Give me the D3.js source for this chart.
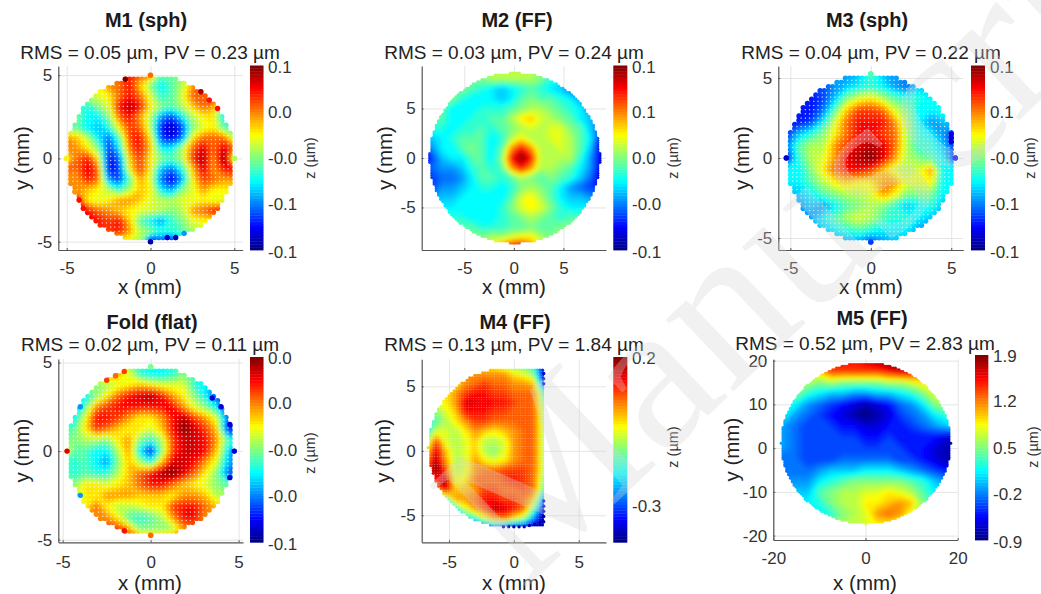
<!DOCTYPE html>
<html><head><meta charset="utf-8">
<script src="https://cdn.jsdelivr.net/npm/d3@7"></script>
<style>
html,body{margin:0;padding:0;background:#fff}
svg{display:block}
text{font-family:"Liberation Sans",Arial,sans-serif}
</style></head><body>
<svg id="fig" width="1041" height="594"></svg>
<script>
// All surface grids are colour-bar steps: -11 = bottom of the bar, 11 = top. Rows run from top to bottom.
const M1_rows=[
[0,0,2,3,4,6,8,6,5,-1,-1,1,2,4,5,4,2],
[0,0,2,3,5,6,8,4,0,-3,-1,1,5,8,6,4,2],
[1,1,1,2,3,6,8,6,2,-2,-1,2,6,6,7,5,3],
[-2,-2,-2,0,2,8,10,8,3,0,-1,1,4,6,5,-2,-2],
[0,0,-3,-3,0,6,8,5,1,-5,-7,-3,1,3,3,-3,-3],
[-1,-1,-3,-4,-2,3,7,6,1,-8,-10,-7,0,2,3,-1,-1],
[5,4,1,-3,-6,-1,7,8,3,-7,-9,-6,3,6,6,6,1],
[5,5,3,0,-7,-3,6,8,4,-3,-3,1,6,9,6,9,6],
[3,6,8,3,-8,-6,4,7,3,0,-1,1,7,10,5,11,1],
[6,6,9,6,-9,-7,3,7,3,-4,-6,-2,4,9,5,8,8],
[5,5,8,6,-5,-7,-1,5,2,-6,-9,-5,3,7,6,5,5],
[5,5,4,3,1,-2,1,4,3,-3,-5,0,2,5,3,3,3],
[8,8,3,2,3,5,5,4,2,1,1,2,2,3,2,2,2],
[8,8,8,6,5,4,3,2,2,1,0,1,5,6,8,8,8],
[8,8,8,8,7,8,4,-1,-3,-5,-2,0,2,3,3,3,3],
[7,7,7,7,7,8,5,1,0,-2,-2,-1,1,1,1,1,1],
[2,2,2,2,2,2,2,1,-10,-7,-9,-5,-5,-5,-5,-5,-5]];
const M1_edge=[[-1.5,4.75,11],[3,4,10],[3.5,3.5,8],[4,3,8],[-4,-3,8],[-4.25,-2.5,8],[-4.5,-2,5],[0,-5,-10],[1.5,-4.75,-10],[1,-4.75,-9],[2,-4.5,-5],[5,0,1],[-5,0,3],[0,5,6]];

const M2_rows=[
[-1,-1,-1,-1,-1,-1,0,1,1,1,1,1,0,-2,-3,-3,-3,-3,-3,-3],
[-1,-1,-1,-1,-1,-1,0,1,1,1,1,1,0,-2,-3,-3,-3,-3,-3,-3],
[-1,-1,-1,-1,0,-1,-2,-3,-4,-3,-2,-1,-2,-3,-4,-6,-6,-6,-6,-6],
[0,0,0,0,-2,-3,-3,-3,-4,-3,-1,0,-1,-1,-2,-3,-5,-6,-6,-6],
[-1,-1,-1,-3,-3,-3,-2,-2,-2,-1,0,1,1,0,-1,-2,-3,-5,-6,-6],
[-1,-1,-1,-3,-3,-2,-2,-1,-1,1,3,4,2,1,0,-1,-3,-4,-6,-6],
[-2,-2,-2,-3,-2,-2,-1,-2,-1,0,1,2,1,2,2,0,-1,-4,-6,-6],
[-4,-4,-3,-2,-1,-1,-1,-3,-2,1,3,1,1,2,2,1,-1,-3,-8,-8],
[-8,-5,-3,-3,-1,0,-1,-3,-1,5,8,5,1,1,2,1,-1,-4,-9,-9],
[-9,-7,-4,-3,-3,-1,-1,-3,0,8,11,8,1,1,1,1,-2,-5,-9,-9],
[-8,-6,-5,-5,-4,-2,-1,-2,-1,5,8,5,1,1,0,-1,-3,-5,-9,-9],
[-8,-7,-6,-6,-5,-3,-1,-1,-2,-1,1,0,-1,0,-1,-2,-4,-6,-9,-9],
[-7,-7,-5,-5,-4,-3,-2,-2,-3,-2,0,1,0,-1,-3,-5,-6,-7,-8,-8],
[-5,-5,-4,-4,-3,-3,-3,-3,-3,-1,2,3,1,-1,-3,-4,-4,-5,-5,-5],
[-3,-3,-3,-3,-3,-3,-3,-3,-2,0,2,3,2,0,-2,-3,-3,-3,-3,-3],
[-2,-2,-2,-2,-2,-3,-3,-3,-2,-1,0,1,0,-1,-2,-1,-1,-1,-1,-1],
[-1,-1,-1,-1,-1,-1,-2,-2,-2,-1,-1,0,-1,-1,0,0,0,0,0,0],
[0,0,0,0,0,0,0,1,1,2,3,3,1,0,0,0,0,0,0,0],
[0,0,0,0,0,0,0,3,6,9,9,6,2,0,0,0,0,0,0,0]];
const M2_edge=[];

const M3_rows=[
[-5,-5,-5,-5,-5,-5,-4,-1,-4,-5,-5,-5,-5,-5,-5],
[-7,-7,-7,-7,-5,-4,-3,-2,-3,-5,-6,-4,-4,-4,-4],
[-8,-8,-8,-7,-4,0,2,3,1,-1,-2,-2,-3,-3,-3],
[-8,-8,-8,-6,-1,4,7,7,6,2,0,-3,-3,-2,-2],
[-8,-8,-7,-3,2,6,8,8,8,5,1,-3,-5,-4,-4],
[-7,-4,-2,0,3,6,8,8,7,6,1,-2,-3,-5,-9],
[-6,-1,1,1,5,7,9,10,9,6,1,-2,-2,-4,-7],
[-8,-2,1,2,5,9,10,11,9,5,1,0,-1,-3,-8],
[-3,-3,0,3,6,8,8,7,4,2,1,2,5,-3,-3],
[-3,-3,-1,1,3,4,3,3,5,5,2,2,3,-3,-3],
[-4,-4,-3,-1,0,1,1,2,5,3,0,0,0,-3,-3],
[-5,-5,-4,-5,-3,-1,0,1,0,-2,-4,-3,-2,-4,-4],
[-5,-5,-5,-3,-1,1,2,1,-1,-2,-2,-3,-4,-4,-4],
[-4,-4,-4,-4,-3,-2,-1,-2,-3,-3,-3,-5,-5,-5,-5],
[-5,-5,-5,-5,-5,-5,-5,-7,-5,-4,-4,-4,-4,-4,-4]];
const M3_edge=[[-5.25,0,-9],[0,5.25,-1],[0,-5.25,-7],[5.25,0,-8],[5,1.5,-9],[5,1.25,-9],[5,1,-9]];

const Fold_rows=[
[3,3,3,3,3,4,1,-1,-2,-2,-2,0,-1,-1,-1,-1,-1],
[3,3,3,4,5,5,2,-2,-3,-3,-2,0,-1,-2,-3,-3,-3],
[0,0,0,0,1,2,3,4,3,2,2,2,-2,-3,-6,-7,-7],
[-3,-3,-3,0,3,6,8,9,10,8,5,3,0,-3,-7,-9,-9],
[-4,-4,-1,5,7,8,8,8,8,8,8,5,2,0,-3,-7,-7],
[-3,-3,2,8,8,7,5,3,3,5,8,10,7,5,2,-6,-6],
[-1,-1,3,7,6,4,3,3,2,4,8,11,9,7,4,-8,-8],
[0,0,1,1,0,3,5,0,-2,1,7,9,9,8,5,-1,-3],
[8,-1,-1,-3,-3,1,5,-3,-8,0,7,9,9,8,4,-3,-8],
[-1,-2,-1,-3,-5,0,4,1,-2,4,9,9,8,5,2,-4,-6],
[-1,-2,-1,-2,-2,1,4,6,8,10,11,9,6,3,0,-6,-7],
[0,0,3,3,2,3,4,6,8,8,6,4,3,2,0,-1,-1],
[1,1,3,3,5,5,5,4,4,4,3,5,5,4,1,1,1],
[2,2,2,6,3,1,1,2,3,3,7,8,8,6,4,4,4],
[5,5,5,5,5,3,-1,-2,-1,1,5,8,8,5,5,5,5],
[7,7,7,7,7,7,5,0,0,0,1,5,6,6,6,6,6],
[6,6,6,6,6,6,6,6,6,6,6,6,6,6,6,6,6]];
const Fold_edge=[[-4.75,0,9],[4.75,0,-9],[0,4.75,0],[0,-4.75,6],[-1.5,4.5,7],[-2,4.25,6],[-2.5,4,7],[-1.5,-4.5,8],[4,2.5,-9],[3.5,3,-9],[4.5,1.5,-9],[4.5,-1.5,-9],[-4,2.5,-5],[-4,-2.5,-5]];

const M4_rows=[
[3,3,3,3,3,3,3,2,0,-1,-1,-2,-9,-11],
[5,5,5,5,5,5,5,5,5,3,2,0,-9,-11],
[5,5,5,3,5,6,7,6,6,5,5,4,-6,-11],
[3,3,3,5,7,8,8,7,7,6,6,6,-1,-11],
[2,2,3,5,9,9,8,8,8,7,6,6,1,-11],
[-1,0,2,4,8,8,8,7,7,6,6,6,2,-11],
[-2,-1,1,3,5,7,7,6,6,6,6,6,2,-11],
[-3,2,2,1,3,5,4,3,4,5,6,6,2,-11],
[0,7,2,1,2,4,1,1,2,5,6,6,2,-11],
[3,9,4,1,2,4,1,0,2,5,6,6,2,-11],
[5,10,5,1,2,5,3,2,3,5,6,6,2,-11],
[7,11,7,1,2,5,6,6,7,7,7,6,2,-11],
[7,8,10,2,3,6,6,6,7,8,7,6,1,-11],
[5,5,9,4,4,5,7,7,6,6,7,6,0,-11],
[-1,-1,-2,5,5,6,8,8,7,7,6,4,-5,-11],
[-3,-3,-3,-3,2,5,7,10,9,8,6,0,-9,-11],
[-3,-3,-3,-3,-3,-2,2,5,6,3,1,-5,-10,-11],
[-8,-8,-8,-8,-8,-8,-8,-8,-10,-10,-10,-10,-10,-10],
[-10,-10,-10,-10,-10,-10,-10,-10,-10,-10,-10,-10,-10,-10]];
const M4_edge=[[-.8,-5.9,-10],[-.4,-5.9,-10],[0,-5.9,-10],[.4,-5.9,-10],[.8,-5.9,-9],[1.2,-5.8,-10],[1.6,-5.7,-10],[2,-5.6,-10],[2.3,-5.5,-10],[2.3,-5.1,-10],[2.3,-4.7,-10],[2.3,-4.3,-9],[2.3,-3.9,-8],[2.3,6,-9],[2.3,5.6,-9],[2.3,5.2,-8]];

const M5_rows=[
[8,8,8,8,8,8,8,8,9,10,11,11,11,10,10,10,10],
[1,1,1,2,4,7,7,7,7,7,8,9,9,7,5,5,5],
[1,1,1,1,0,1,0,0,0,0,1,1,2,3,4,4,4],
[0,0,0,-2,-3,-4,-4,-5,-5,-4,-4,-3,-2,0,2,3,3],
[-3,-3,-3,-5,-6,-7,-8,-9,-10,-9,-8,-6,-5,-3,0,1,1],
[-3,-3,-5,-6,-7,-8,-9,-10,-11,-10,-9,-7,-6,-5,-3,-2,-2],
[-5,-5,-6,-7,-7,-7,-8,-8,-9,-9,-8,-8,-7,-6,-5,-4,-4],
[-5,-5,-6,-7,-7,-7,-7,-7,-8,-8,-7,-8,-8,-8,-8,-9,-9],
[-5,-5,-6,-7,-7,-7,-7,-7,-7,-7,-7,-7,-8,-8,-9,-10,-10],
[-6,-6,-6,-7,-7,-7,-6,-6,-6,-6,-6,-7,-7,-8,-9,-10,-10],
[-6,-6,-6,-6,-5,-4,-4,-4,-3,-3,-3,-4,-5,-6,-7,-8,-8],
[-5,-5,-5,-5,-3,-2,-1,0,0,0,0,0,-1,-2,-4,-5,-5],
[-4,-4,-4,-4,-1,0,1,1,2,2,3,2,1,-1,-3,-3,-3],
[-3,-3,-3,-3,-2,0,1,1,3,3,4,5,4,0,-2,-2,-2],
[-3,-3,-3,-3,-3,-2,0,1,2,5,6,5,2,0,0,0,0],
[0,0,0,0,0,0,1,1,2,3,3,2,1,0,0,0,0],
[1,1,1,1,1,1,1,1,1,1,1,1,1,1,1,1,1]];
const M5_edge=[];

// Text and tick labels
const titles=["M1 (sph)","M2 (FF)","M3 (sph)","Fold (flat)","M4 (FF)","M5 (FF)"];
const subtitles=["RMS = 0.05 µm, PV = 0.23 µm","RMS = 0.03 µm, PV = 0.24 µm","RMS = 0.04 µm, PV = 0.22 µm","RMS = 0.02 µm, PV = 0.11 µm","RMS = 0.13 µm, PV = 1.84 µm","RMS = 0.52 µm, PV = 2.83 µm"];
const cbLabels=[
["0.1","0.0","-0.0","-0.1","-0.1"],
["0.1","0.1","0.0","-0.0","-0.1"],
["0.1","0.1","-0.0","-0.1","-0.1"],
["0.0","0.0","-0.0","-0.0","-0.1"],
["0.2","-0.3"],
["1.9","1.2","0.5","-0.2","-0.9"]];
const cbSteps5=[11,5.5,0,-5.5,-11];
const cbStepsM4=[11,-6.65];
const ticks5=[-5,0,5], ticks20=[-20,0,20], ticks20y=[-20,-10,0,10,20];

// Layout of the six panels
const panels=[
{i:0,rows:M1_rows,edge:M1_edge,gx:[-5,.625],gy:[5,.625],box:[58.3,242.7,66,250],xd:[-5.5,5.5],yd:[-5.5,5.55],xt:ticks5,yt:ticks5,cb:[250,263.5,65.5,250],cbT:cbSteps5,cbLx:268,tx:146,ty:20,sx:150,sy:52,ylx:22,xlx:150,xly:287,xty:268,zx:310,zy:158,dots:{R:5,pitch:.25,gap:1,r:2.7,cx:0,cy:0}},
{i:1,rows:M2_rows,edge:M2_edge,gx:[-9.25,1],gy:[9,1],box:[421.7,606,66,250],xd:[-9.3,9.3],yd:[-9.3,9.3],xt:ticks5,yt:ticks5,cb:[613.3,627.3,65.5,250],cbT:cbSteps5,cbLx:632,tx:517,ty:20,sx:514,sy:52,ylx:385,xlx:514,xly:287,xty:268,zx:673,zy:158,dots:{R:8.6,pitch:.22,gap:0,r:1.7,cx:.1,cy:0}},
{i:2,rows:M3_rows,edge:M3_edge,gx:[-5.25,.75],gy:[5.25,.75],box:[778.3,963.3,66,250],xd:[-5.75,5.75],yd:[-5.75,5.75],xt:ticks5,yt:ticks5,cb:[971,985,65.5,250],cbT:cbSteps5,cbLx:990,tx:867,ty:20,sx:871,sy:52,ylx:742,xlx:871,xly:287,xty:268,zx:1030,zy:158,dots:{R:5.25,pitch:.2625,gap:1,r:2.7,cx:0,cy:0}},
{i:3,rows:Fold_rows,edge:Fold_edge,gx:[-5,.625],gy:[5,.625],box:[58.3,243,359,542.3],xd:[-5.25,5.25],yd:[-5.15,5.2],xt:ticks5,yt:ticks5,cb:[250,263.5,357,542.3],cbT:cbSteps5,cbLx:268,tx:152,ty:322,sx:150,sy:344,ylx:22,xlx:150,xly:583,xty:562,zx:310,zy:453,dots:{R:4.75,pitch:.2375,gap:1,r:2.7,cx:0,cy:0}},
{i:4,rows:M4_rows,edge:M4_edge,gx:[-6.75,.75],gy:[6.75,.75],box:[421.7,606,359.3,542.3],xd:[-7.1,7.1],yd:[-7.1,7.1],xt:ticks5,yt:ticks5,cb:[613.3,627.3,357,542.3],cbT:cbStepsM4,cbLx:632,tx:515,ty:322,sx:514,sy:344,ylx:383,xlx:514,xly:583,xty:562,zx:673,zy:447,dots:{half:1,R:6.2,pitch:.2,gap:0,r:1.7,cx:-.4,cy:.25}},
{i:5,rows:M5_rows,edge:M5_edge,gx:[-20,2.5],gy:[20,2.5],box:[773.3,957.7,359.3,540],xd:[-20,20],yd:[-21,20.3],xt:ticks20,yt:ticks20y,cb:[975,988.3,355,540],cbT:cbSteps5,cbLx:993,tx:872,ty:318,sx:865,sy:343,ylx:732,xlx:865,xly:583,xty:558,zx:1033,zy:447,dots:{top:19.2,R:18.4,pitch:.4,gap:0,r:1.5,cx:.1,cy:1.1}}
];

const svg=d3.select("#fig");
const defs=svg.append("defs");
const jet=d3.scaleLinear().domain([-11,-8.25,-2.75,2.75,8.25,11]).range(["#00007f","#0000ff","#00ffff","#ffff00","#ff0000","#7f0000"]).clamp(true);
const levels=d3.range(-11,11.01,.5);
defs.append("filter").attr("id","smooth").attr("x","-5%").attr("y","-5%").attr("width","110%").attr("height","110%").append("feGaussianBlur").attr("stdDeviation",1.9);
defs.append("filter").attr("id","soft").attr("x","-5%").attr("y","-5%").attr("width","110%").attr("height","110%").append("feGaussianBlur").attr("stdDeviation",.5);

panels.forEach(p=>{
  const [L,R,T,B]=p.box;
  const x=d3.scaleLinear().domain(p.xd).range([L,R]);
  const y=d3.scaleLinear().domain(p.yd).range([B,T]);
  const g=svg.append("g");
  g.append("g").attr("transform",`translate(0,${B})`).call(d3.axisBottom(x).tickValues(p.xt).tickSize(T-B).tickFormat("")).call(s=>{s.select(".domain").remove();s.selectAll("line").attr("stroke","#e4e4e4")});
  g.append("g").attr("transform",`translate(${L},0)`).call(d3.axisLeft(y).tickValues(p.yt).tickSize(L-R).tickFormat("")).call(s=>{s.select(".domain").remove();s.selectAll("line").attr("stroke","#e4e4e4")});
  // mask made of the measurement dots
  const d=p.dots, pitch=d.pitch;
  const n=Math.ceil((d.R+1)/pitch), pts=[];
  const inside=(px,py)=>{
    const dx=px-d.cx, dy=py-d.cy, ok=dx*dx+dy*dy<=d.R*d.R*1.0001;
    if(d.half) return px<=2.4 && (px<-1 ? ok : (py>=-5.9 && py<=6.4));
    if(d.top!==undefined) return ok && py<=d.top;
    return ok;
  };
  for(let i=-n;i<=n;i++)for(let j=-n;j<=n;j++){
    const px=d.cx+i*pitch, py=d.cy+j*pitch;
    if(inside(px,py))pts.push([px,py]);
  }
  const clip=defs.append("clipPath").attr("id","clip"+p.i);
  clip.selectAll("circle").data(pts).join("circle").attr("cx",v=>x(v[0])).attr("cy",v=>y(v[1])).attr("r",d.r);
  // filled contours of the surface
  const m=p.rows.length, w=p.rows[0].length;
  const cs=d3.contours().size([w,m]).thresholds(levels)(p.rows.flat());
  const proj=d3.geoTransform({point(a,b){this.stream.point(x(p.gx[0]+(a-.5)*p.gx[1]),y(p.gy[0]-(b-.5)*p.gy[1]));}});
  const path=d3.geoPath(proj);
  const outer=g.append("g").attr("filter","url(#soft)");
  const clipped=outer.append("g").attr("clip-path",`url(#clip${p.i})`);
  const surf=clipped.append("g").attr("filter","url(#smooth)");
  surf.selectAll("path").data(cs).join("path").attr("d",path).attr("fill",c=>jet(c.value+.25));
  // white gaps between the measurement dots
  if(d.gap){
    const gaps=pts.filter(v=>inside(v[0]+pitch,v[1])&&inside(v[0],v[1]+pitch)&&inside(v[0]+pitch,v[1]+pitch));
    clipped.append("g").selectAll("circle").data(gaps).join("circle")
      .attr("cx",v=>x(v[0]+pitch/2)).attr("cy",v=>y(v[1]+pitch/2)).attr("r",.8).attr("fill","#fff").attr("opacity",.6);
  }
  outer.append("g").selectAll("circle").data(p.edge).join("circle")
    .attr("cx",v=>x(v[0])).attr("cy",v=>y(v[1])).attr("r",d.r).attr("fill",v=>jet(v[2]));
  // axes
  const fmt=v=>String(v);
  const style=s=>{s.select(".domain").attr("stroke","#555").attr("stroke-width",1.2);s.selectAll("line").attr("stroke","#555");s.selectAll("text").attr("font-size",17).attr("fill","#333").style("font-family",'"Liberation Sans"')};
  g.append("g").attr("transform",`translate(0,${B})`).call(d3.axisBottom(x).tickValues(p.xt).tickSizeInner(-2).tickSizeOuter(0).tickPadding(p.xty-B-6).tickFormat(fmt)).call(style);
  g.append("g").attr("transform",`translate(${L},0)`).call(d3.axisLeft(y).tickValues(p.yt).tickSizeInner(-2).tickSizeOuter(0).tickPadding(6).tickFormat(fmt)).call(style);
  // colour bar
  const [cL,cR,cT,cB]=p.cb;
  const cy=d3.scaleLinear().domain([-11,11]).range([cB,cT]);
  const bands=d3.range(-11,11,22/64);
  g.append("g").selectAll("rect").data(bands).join("rect").attr("x",cL).attr("width",cR-cL)
    .attr("y",v=>cy(v+22/64)).attr("height",v=>cy(v)-cy(v+22/64)+.4).attr("fill",v=>jet(v+11/64));
  g.append("g").selectAll("text").data(p.cbT).join("text").attr("x",p.cbLx)
    .attr("y",v=>cy(v)+(v===11?1.2:v===-11?1.5:0)).attr("dy",".36em").attr("font-size",17).attr("fill","#333")
    .text((v,k)=>cbLabels[p.i][k]);
  // titles
  g.append("text").attr("x",p.tx).attr("y",p.ty).attr("dy",".36em").attr("text-anchor","middle").attr("font-size",20).attr("font-weight","bold").attr("fill","#1a1a1a").text(titles[p.i]);
  g.append("text").attr("x",p.sx).attr("y",p.sy).attr("dy",".36em").attr("text-anchor","middle").attr("font-size",19).attr("fill","#222").text(subtitles[p.i]);
  g.append("text").attr("x",p.xlx).attr("y",p.xly).attr("dy",".36em").attr("text-anchor","middle").attr("font-size",20.5).attr("fill","#222").text("x (mm)");
  g.append("text").attr("transform",`translate(${p.ylx},${(T+B)/2}) rotate(-90)`).attr("dy",".36em").attr("text-anchor","middle").attr("font-size",20.5).attr("fill","#222").text("y (mm)");
  g.append("text").attr("transform",`translate(${p.zx},${p.zy}) rotate(-90)`).attr("dy",".36em").attr("text-anchor","middle").attr("font-size",14.5).attr("fill","#333").text("z (µm)");
});
// watermark
svg.append("text").attr("transform","translate(522,592) rotate(-43.5)")
  .attr("font-size",215).style("font-family",'"Liberation Serif"').attr("fill","#d6d6d6").attr("opacity",.32).text("Manuscript");
</script>
</body></html>
